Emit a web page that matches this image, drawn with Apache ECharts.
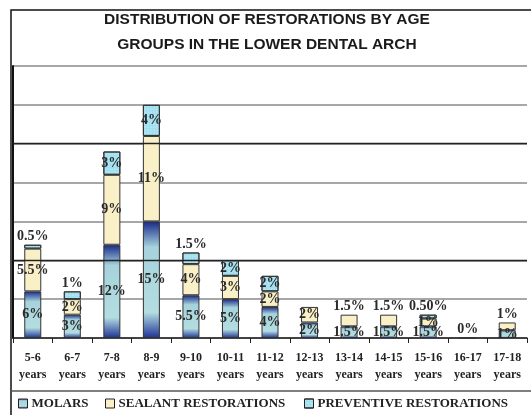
<!DOCTYPE html>
<html>
<head>
<meta charset="utf-8">
<script src="https://cdn.jsdelivr.net/npm/echarts@6/dist/echarts.min.js"></script>
<style>
  html, body { margin: 0; padding: 0; background: #fff; }
  #chartingArea { width: 531px; height: 415px; }
</style>
</head>
<body>
<div id="chartingArea"></div>
<script>
// age groups and percentages
const ageGroups = ['5-6', '6-7', '7-8', '8-9', '9-10', '10-11', '11-12', '12-13', '13-14', '14-15', '15-16', '16-17', '17-18'];
const molars = [6, 3, 12, 15, 5.5, 5, 4, 2, 1.5, 1.5, 1.5, 0, 1];
const sealant = [5.5, 2, 9, 11, 4, 3, 2, 2, 1.5, 1.5, 1, null, 1];
const preventive = [0.5, 1, 3, 4, 1.5, 2, 2, null, null, null, 0.5, null, null];
const preventiveText = { '15-16': '0.50%' };

// labels that sit above the bar instead of inside it
const topLabels = {
  molars: ['16-17'],
  sealant: ['13-14', '14-15', '17-18'],
  preventive: ['5-6', '6-7', '9-10', '15-16']
};

const labelFont = {
  fontFamily: 'Liberation Serif',
  fontWeight: 'bold',
  fontSize: 14,
  color: '#2a2a2a'
};

function items(key, values, texts) {
  return values.map((v, i) => {
    const onTop = topLabels[key].indexOf(ageGroups[i]) >= 0;
    return {
      value: v,
      label: {
        show: v !== null,
        position: onTop ? 'top' : 'inside',
        distance: 1,
        formatter: (texts && texts[ageGroups[i]]) || (v + '%'),
        ...labelFont
      }
    };
  });
}

const molarColor = new echarts.graphic.LinearGradient(0, 0, 0, 1, [
  { offset: 0, color: '#18288a' },
  { offset: 0.22, color: '#a6d3dc' },
  { offset: 0.78, color: '#b3dde0' },
  { offset: 1, color: '#1f3296' }
]);

const myChart = echarts.init(document.getElementById('chartingArea'));
myChart.setOption({
  animation: false,
  title: {
    text: 'DISTRIBUTION OF RESTORATIONS BY AGE\nGROUPS IN THE LOWER DENTAL ARCH',
    left: 262,
    textAlign: 'center',
    top: 2,
    textStyle: {
      fontFamily: 'Liberation Sans',
      fontWeight: 'bold',
      fontSize: 15.5,
      lineHeight: 25,
      color: '#1a1a1a'
    }
  },
  legend: [
    { data: ['MOLARS'], left: 13, top: 392 },
    { data: ['SEALANT RESTORATIONS'], left: 100, top: 392 },
    { data: ['PREVENTIVE RESTORATIONS'], left: 299, top: 392 }
  ].map(l => Object.assign(l, {
    icon: 'rect',
    itemWidth: 9,
    itemHeight: 9,
    itemGap: 4,
    itemStyle: { borderColor: '#222', borderWidth: 1 },
    textStyle: {
      fontFamily: 'Liberation Serif',
      fontWeight: 'bold',
      fontSize: 13,
      color: '#222',
      padding: [0, 0, 0, -1]
    }
  })),
  grid: { left: 13, right: 4, top: 66, bottom: 77 },
  xAxis: {
    type: 'category',
    data: ageGroups,
    axisLine: { lineStyle: { color: '#222', width: 1.5 } },
    axisTick: { show: true, length: 5, lineStyle: { color: '#222' } },
    axisLabel: {
      interval: 0,
      margin: 11,
      formatter: v => v + '\nyears',
      fontFamily: 'Liberation Serif',
      fontWeight: 'bold',
      fontSize: 12,
      lineHeight: 17,
      color: '#222'
    }
  },
  yAxis: {
    type: 'value',
    min: 0,
    max: 35,
    interval: 5,
    axisLabel: { show: false },
    axisTick: { show: false },
    axisLine: { show: true, lineStyle: { color: '#111', width: 2 } },
    splitLine: { lineStyle: { color: '#8a8a8a', width: 1.5 } }
  },
  graphic: [
    {
      type: 'rect',
      shape: { x: 11, y: 10, width: 530, height: 420 },
      style: { fill: null, stroke: '#111', lineWidth: 1.5 },
      silent: true
    },
    {
      type: 'line',
      shape: { x1: 11, y1: 391, x2: 531, y2: 391 },
      style: { stroke: '#555', lineWidth: 1.5 },
      silent: true
    }
  ],
  series: [
    {
      name: 'MOLARS',
      type: 'bar',
      stack: 'total',
      barWidth: 17,
      data: items('molars', molars),
      itemStyle: { color: molarColor, borderColor: '#333', borderWidth: 1 },
      markLine: {
        silent: true,
        symbol: 'none',
        label: { show: false },
        lineStyle: { color: '#222', type: 'solid', width: 1.3 },
        data: [{ yAxis: 10 }, { yAxis: 25 }]
      }
    },
    {
      name: 'SEALANT RESTORATIONS',
      type: 'bar',
      stack: 'total',
      data: items('sealant', sealant),
      itemStyle: { color: '#faf0c8', borderColor: '#333', borderWidth: 1 }
    },
    {
      name: 'PREVENTIVE RESTORATIONS',
      type: 'bar',
      stack: 'total',
      data: items('preventive', preventive, preventiveText),
      itemStyle: {
        color: '#9fdff0',
        borderColor: '#333',
        borderWidth: 1,
        decal: {
          symbol: 'circle',
          symbolSize: 0.6,
          color: 'rgba(255,255,255,0.8)',
          dashArrayX: [2, 1],
          dashArrayY: [2, 1],
          rotation: 0
        }
      }
    }
  ]
});
</script>
</body>
</html>
